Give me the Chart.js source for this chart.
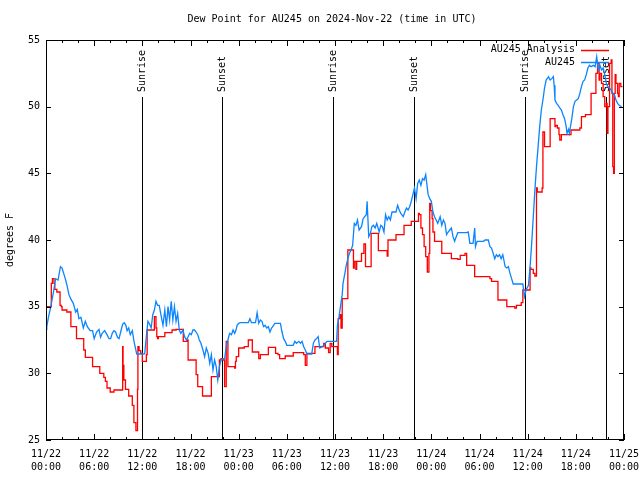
<!DOCTYPE html>
<html>
<head>
<meta charset="utf-8">
<script src="https://cdn.jsdelivr.net/npm/chart.js@4.4.0/dist/chart.umd.min.js"></script>
<style>
  html, body { margin: 0; padding: 0; background: #fff; }
  #wrap { width: 640px; height: 480px; }
</style>
</head>
<body>
<div id="wrap"><canvas id="dewChart" width="640" height="480"></canvas></div>
<script>
// hours since 2024-11-22 00:00 UTC
const obsHours = [
  0.0, 0.1, 0.3, 0.6, 0.9, 1.2, 1.5, 1.8, 2.0, 2.25, 2.45, 2.65, 2.86, 3.07, 3.4, 3.7, 3.9, 4.1, 4.35, 4.65,
  4.9, 5.15, 5.5, 5.8, 6.0, 6.3, 6.6, 6.8, 7.0, 7.3, 7.6, 7.85, 8.05, 8.25, 8.46, 8.67, 8.9, 9.1, 9.3, 9.55,
  9.75, 9.95, 10.1, 10.3, 10.5, 10.75, 10.96, 11.3, 12.2,
  12.3, 12.5, 12.7, 12.9, 13.1, 13.3, 13.5, 13.7, 13.9, 14.1, 14.36, 14.57, 14.8, 15.0, 15.2, 15.4, 15.6, 15.8,
  16.0, 16.2, 16.4, 16.6, 16.8, 17.06, 17.26, 17.5, 17.7, 17.9, 18.1, 18.3, 18.5, 18.7, 18.9, 19.1, 19.3, 19.55,
  19.76, 19.97, 20.2, 20.4, 20.6, 20.8, 21.0, 21.2, 21.4, 21.6, 21.8, 22.0, 22.25, 22.45, 22.66, 22.87, 23.1,
  23.3, 23.5, 23.7,
  23.8, 24.0, 24.2, 25.2, 25.4, 25.6, 26.1, 26.3, 26.5, 26.7, 26.9, 27.1, 27.3, 27.5, 27.7, 27.9, 28.1, 28.35,
  28.5, 29.2, 29.4, 29.6, 29.8, 30.0, 30.8, 31.0, 31.2, 31.5, 31.7, 31.9, 32.1, 32.3, 32.5, 33.1, 33.3, 33.5,
  33.7, 33.9, 34.1, 34.4, 34.6, 34.8, 35.0, 36.2,
  36.3, 36.5, 36.7, 36.9, 37.0, 37.2, 37.4, 37.6, 37.8, 38.0, 38.2, 38.4, 38.6, 38.8, 39.0, 39.3, 39.5, 39.7,
  39.9, 40.0, 40.2, 40.4, 40.6, 40.8, 41.0, 41.2, 41.5, 41.7, 41.9, 42.1, 42.3, 42.5, 42.7, 42.9, 43.1, 43.6,
  43.8, 44.0, 44.2, 44.5, 44.7, 44.9, 45.1, 45.3, 45.5, 45.7, 45.9, 46.1, 46.3, 46.5, 46.7, 46.9, 47.1, 47.3,
  47.6, 47.8, 48.0, 48.2, 48.4, 48.6, 48.8, 49.1, 49.3, 49.5, 49.7, 49.9, 50.1, 50.3, 50.5, 50.7, 50.9, 51.1,
  51.3, 52.4, 52.6, 52.8, 53.2, 53.4, 53.5, 53.7, 54.5, 54.7, 55.1, 55.3, 55.5, 55.7, 55.9, 56.1, 56.3, 56.5,
  56.7, 56.9, 57.2, 57.4, 57.6, 57.8, 58.0, 58.2, 59.4, 59.6,
  59.8, 60.1, 60.3, 60.5, 60.7, 60.9, 61.1, 61.3, 61.5, 61.7, 61.9, 62.1, 62.3, 62.6, 62.8, 63.0, 63.2, 63.3,
  63.4, 63.6, 63.8, 64.0, 64.2, 64.4, 64.6, 64.8, 64.9, 65.1, 65.2, 65.3, 65.5, 65.7, 65.9, 66.1, 66.3, 66.5,
  66.7, 66.9, 67.1, 67.3, 67.5, 67.7, 67.9, 68.2, 68.4, 68.6, 68.8, 69.0, 69.2, 69.4, 69.6, 69.8, 70.0, 70.2,
  70.4, 70.6, 70.8, 71.0, 71.2, 71.4, 71.7
];
const obsValues = [
  33.3, 33.5, 34.2, 35.0, 36.0, 37.1, 37.0, 38.0, 37.9, 37.4, 37.0, 36.5, 35.9, 35.6, 35.25, 34.6, 34.8, 34.1, 34.2, 33.4,
  33.9, 33.5, 33.2, 33.2, 32.6, 33.1, 33.3, 32.7, 33.0, 33.2, 32.9, 32.6, 32.6, 33.0, 33.2, 33.1, 32.7, 32.6, 33.1, 33.7,
  33.8, 33.6, 33.2, 33.4, 32.9, 33.2, 32.4, 31.45, 31.45,
  31.5, 32.75, 33.9, 33.7, 33.4, 34.4, 34.75, 35.4, 35.1, 35.1, 34.25, 33.6, 34.75, 33.5, 35.0, 34.0, 35.4, 34.0,
  35.0, 33.9, 34.5, 33.25, 33.0, 33.25, 32.75, 32.5, 32.75, 33.0, 32.9, 33.25, 33.25, 33.1, 32.9, 32.5, 32.25, 31.75,
  31.25, 31.9, 31.5, 30.75, 31.4, 30.25, 31.0, 30.5, 29.5, 30.5, 31.0, 31.1, 31.1, 32.0, 32.5, 33.0, 32.9,
  33.25, 33.0, 33.3,
  33.6, 33.75, 33.8, 33.8, 34.1, 33.8, 33.8, 34.55, 33.75, 34.0, 33.9, 33.5, 33.6, 33.4, 33.5, 33.1, 33.4, 33.6,
  33.75, 33.75, 33.1, 32.6, 32.4, 32.1, 32.1, 32.4, 32.25, 32.4, 32.25, 32.4, 32.0, 31.75, 31.45, 31.45, 32.25, 32.5,
  32.6, 32.75, 31.9, 32.0, 32.1, 32.25, 32.4, 32.4,
  33.6, 34.25, 35.1, 35.9, 36.75, 37.4, 38.1, 38.6, 39.0, 39.25, 39.6, 41.25, 41.1, 41.5, 40.75, 41.0, 41.6, 41.75,
  41.9, 42.9, 40.25, 40.5, 41.0, 41.1, 40.9, 41.25, 40.6, 41.1, 41.0, 40.6, 41.9, 41.5, 41.75, 41.5, 42.1, 42.1,
  42.6, 42.25, 42.0, 41.75, 42.1, 42.4, 42.25, 42.5, 42.9, 43.4, 43.9, 43.1, 44.25, 44.5, 44.1, 44.6, 44.5, 44.9,
  43.4, 43.1, 42.9, 42.1, 41.75, 41.5, 41.25, 41.75, 41.1, 41.5, 41.25, 40.4, 40.6, 40.75, 40.9, 40.25, 39.9, 40.25,
  40.55, 40.55, 40.6, 39.75, 39.75, 40.9, 39.5, 39.9, 39.9, 40.0, 40.0, 39.5, 39.4, 39.0, 38.6, 38.9, 38.75, 38.9,
  38.6, 38.9, 38.0, 37.9, 38.0, 37.5, 37.1, 36.7, 36.7, 35.75,
  36.25, 36.6, 38.0, 39.75, 41.75, 43.75, 45.5, 47.0, 48.5, 49.75, 50.5, 51.4, 52.0, 52.25, 52.0, 52.1, 52.25, 51.6,
  50.5, 50.25, 50.1, 49.9, 49.75, 49.4, 49.1, 48.5, 48.0, 48.3, 48.0, 48.4, 49.1, 50.0, 50.4, 50.5, 50.6, 51.0,
  51.5, 51.9, 52.0, 52.4, 52.9, 53.1, 53.0, 53.1, 53.0, 53.75, 52.75, 53.1, 52.75, 52.9, 52.4, 51.75, 51.5, 51.4,
  51.25, 51.0, 50.9, 50.5, 50.25, 50.1, 50.0
];

const anaHours = [
  0.0, 0.66, 0.8, 1.0, 1.1, 1.35, 1.75, 1.9, 2.0, 2.6, 3.1, 3.8, 4.7, 4.9, 5.8, 6.7, 7.2, 7.4, 7.6, 8.0,
  8.47, 8.7, 9.55, 9.6, 9.7, 9.9, 10.3, 10.75, 10.95, 11.2, 11.4, 11.45, 11.6, 11.8, 12.0, 12.5, 12.6, 13.5,
  13.7, 13.8, 13.9, 14.0, 14.8, 15.7, 16.2, 17.1, 17.55, 17.7, 18.7, 18.9, 19.5, 20.6, 21.6, 21.8, 22.0, 22.25,
  22.45, 22.66, 23.5, 23.6, 23.7, 24.0, 24.7, 25.2, 25.7, 26.5, 26.7, 27.7, 28.6, 28.9, 29.1, 29.8, 30.8, 32.1,
  32.3, 32.5, 33.5, 34.6, 34.8, 35.2, 35.4, 35.6, 36.3, 36.4, 36.6, 36.75, 36.9, 37.6, 38.3, 38.4, 38.6, 38.7,
  39.3, 39.6, 39.8, 40.5, 41.4, 42.5, 42.6, 43.6, 44.6, 45.5, 46.4, 46.5, 46.7, 46.9, 47.1, 47.3, 47.5, 47.7,
  47.8, 47.9, 48.1, 48.2, 48.4, 49.3, 50.5, 51.3, 51.6, 52.2, 52.4, 53.4, 55.3, 55.5, 56.3, 57.4, 58.4, 58.6,
  59.2, 59.4, 60.3, 60.4, 60.7, 60.9, 61.1, 61.2, 61.8, 61.9, 62.1, 62.8, 63.4, 63.5, 63.7, 63.9, 64.0, 64.2,
  65.4, 66.5, 66.7, 67.2, 67.9, 68.5, 68.7, 68.9, 69.0, 69.2, 69.4, 69.6, 69.8, 69.9, 70.0, 70.2, 70.4, 70.5,
  70.6, 70.7, 70.8, 70.9, 71.0, 71.2, 71.3, 71.4, 71.6, 71.8
];
const anaValues = [
  34.25, 35.0, 36.75, 37.1, 36.75, 36.3, 36.1, 35.1, 35.0, 34.75, 34.6, 33.5, 32.6, 31.75, 31.2, 30.5, 30.0, 29.7, 29.4, 28.9,
  28.6, 28.75, 28.75, 32.0, 30.6, 29.5, 28.8, 28.3, 27.6, 26.3, 25.7, 28.8, 32.0, 31.7, 31.5, 30.9, 31.4, 33.25,
  34.25, 33.4, 32.75, 32.6, 32.75, 33.05, 33.25, 33.3, 32.4, 32.5, 31.0, 29.9, 29.0, 28.3, 29.75, 31.0, 31.1, 31.0,
  29.0, 32.4, 30.5, 30.4, 30.9, 31.25, 31.9, 32.0, 32.5, 31.6, 31.1, 31.4, 31.95, 31.5, 31.4, 31.1, 31.3, 31.55,
  31.4, 30.6, 31.5, 32.0, 32.25, 31.9, 31.55, 32.25, 32.0, 31.4, 34.1, 34.4, 33.4, 35.6, 39.25, 37.9, 38.4, 37.8,
  38.4, 39.0, 39.7, 38.0, 40.5, 39.2, 38.8, 40.0, 40.4, 41.1, 41.4, 42.0, 41.9, 40.9, 40.4, 39.5, 38.75, 37.6,
  39.0, 42.75, 42.2, 41.6, 40.6, 39.9, 39.0, 38.6, 38.55, 38.85, 39.0, 38.1, 37.25, 37.1, 36.9, 35.5, 35.0, 34.9,
  35.1, 35.3, 36.25, 37.9, 37.8, 37.5, 37.3, 43.9, 43.6, 43.9, 48.1, 47.0, 49.1, 48.5, 48.6, 48.4, 47.9, 47.5,
  47.9, 48.25, 48.4, 49.25, 49.4, 51.0, 52.5, 53.25, 52.0, 52.5, 51.75, 50.75, 50.0, 50.25, 48.0, 50.0, 53.25, 53.5,
  51.0, 45.5, 45.0, 51.0, 52.4, 51.75, 51.0, 50.75, 51.75, 51.5
];

const sunHours = [11.96, 21.9, 35.75, 45.85, 59.7, 69.7];
const sunLabels = ['Sunrise', 'Sunset', 'Sunrise', 'Sunset', 'Sunrise', 'Sunset'];

const xTickLabels = [
  ['11/22', '00:00'], ['11/22', '06:00'], ['11/22', '12:00'], ['11/22', '18:00'],
  ['11/23', '00:00'], ['11/23', '06:00'], ['11/23', '12:00'], ['11/23', '18:00'],
  ['11/24', '00:00'], ['11/24', '06:00'], ['11/24', '12:00'], ['11/24', '18:00'],
  ['11/25', '00:00']
];

const FONT = '10px "DejaVu Sans Mono", monospace';

function toPoints(hours, values) {
  return hours.map((h, i) => ({ x: h, y: values[i] }));
}

// frame, inward ticks, sun markers, legend and title
const decorations = {
  id: 'decorations',
  beforeDatasetsDraw(chart) {
    const { ctx, chartArea, scales } = chart;
    ctx.save();
    ctx.strokeStyle = '#000';
    ctx.lineWidth = 1;
    ctx.fillStyle = '#000';
    ctx.font = FONT;
    sunHours.forEach((h, i) => {
      const x = Math.round(scales.x.getPixelForValue(h)) + 0.5;
      ctx.beginPath();
      ctx.moveTo(x, chartArea.top + 57);
      ctx.lineTo(x, chartArea.bottom);
      ctx.stroke();
      ctx.save();
      ctx.translate(x, chartArea.top + 52);
      ctx.rotate(-Math.PI / 2);
      ctx.textAlign = 'left';
      ctx.textBaseline = 'middle';
      ctx.fillText(sunLabels[i], 0, 0);
      ctx.restore();
    });
    ctx.restore();
  },
  afterDraw(chart) {
    const { ctx, chartArea, scales } = chart;
    const { left, right, top, bottom } = chartArea;
    ctx.save();
    ctx.strokeStyle = '#000';
    ctx.lineWidth = 1;
    ctx.strokeRect(left + 0.5, top + 0.5, right - left - 1, bottom - top - 1);

    ctx.beginPath();
    scales.y.ticks.forEach(t => {
      const y = Math.round(scales.y.getPixelForValue(t.value)) + 0.5;
      ctx.moveTo(left, y); ctx.lineTo(left + 5, y);
      ctx.moveTo(right, y); ctx.lineTo(right - 5, y);
    });
    for (let h = 0; h <= 72; h += 2) {
      const x = Math.round(scales.x.getPixelForValue(h)) + 0.5;
      const len = h % 6 === 0 ? 6 : 3;
      ctx.moveTo(x, bottom); ctx.lineTo(x, bottom - len);
      ctx.moveTo(x, top); ctx.lineTo(x, top + len);
    }
    ctx.stroke();

    // legend
    ctx.font = FONT;
    ctx.textAlign = 'right';
    ctx.textBaseline = 'middle';
    chart.data.datasets.forEach((ds, i) => {
      const y = top + 9.5 + i * 12.5;
      ctx.fillStyle = '#000';
      ctx.fillText(ds.label, right - 49, y);
      ctx.strokeStyle = ds.borderColor;
      ctx.lineWidth = 1.5;
      ctx.beginPath();
      ctx.moveTo(right - 43, Math.round(y) + 0.5);
      ctx.lineTo(right - 15, Math.round(y) + 0.5);
      ctx.stroke();
    });

    // title
    ctx.fillStyle = '#000';
    ctx.textAlign = 'center';
    ctx.fillText('Dew Point for AU245 on 2024-Nov-22 (time in UTC)', (left + right) / 2 - 3, 19);
    ctx.restore();
  }
};

new Chart(document.getElementById('dewChart'), {
  type: 'line',
  data: {
    datasets: [
      {
        label: 'AU245 Analysis',
        data: toPoints(anaHours, anaValues),
        borderColor: '#ff0000',
        borderWidth: 1.3,
        pointRadius: 0,
        stepped: 'after',
        order: 1
      },
      {
        label: 'AU245',
        data: toPoints(obsHours, obsValues),
        borderColor: '#0a84ff',
        borderWidth: 1.3,
        pointRadius: 0,
        tension: 0,
        order: 0
      }
    ]
  },
  options: {
    responsive: false,
    animation: false,
    layout: { padding: { top: 40, right: 16, left: 0, bottom: 0 } },
    plugins: {
      legend: { display: false },
      title: { display: false },
      tooltip: { enabled: false }
    },
    scales: {
      x: {
        type: 'linear',
        min: 0,
        max: 72,
        grid: { display: false, drawTicks: false },
        border: { display: false },
        ticks: {
          stepSize: 6,
          autoSkip: false,
          maxRotation: 0,
          padding: 8,
          color: '#000',
          font: { family: '"DejaVu Sans Mono", monospace', size: 10, lineHeight: 1.3 },
          callback: (v) => xTickLabels[v / 6]
        },
        afterFit: (scale) => {
          scale.height = 40;
          scale.paddingLeft = 0;
          scale.paddingRight = 0;
        }
      },
      y: {
        min: 25,
        max: 55,
        grid: { display: false, drawTicks: false },
        border: { display: false },
        ticks: {
          stepSize: 5,
          padding: 6,
          color: '#000',
          font: { family: '"DejaVu Sans Mono", monospace', size: 10 }
        },
        title: {
          display: true,
          text: 'degrees F',
          color: '#000',
          padding: { top: 4, bottom: 0 },
          font: { family: '"DejaVu Sans Mono", monospace', size: 10 }
        },
        afterFit: (scale) => { scale.width = 46; }
      }
    }
  },
  plugins: [decorations]
});
</script>
</body>
</html>
